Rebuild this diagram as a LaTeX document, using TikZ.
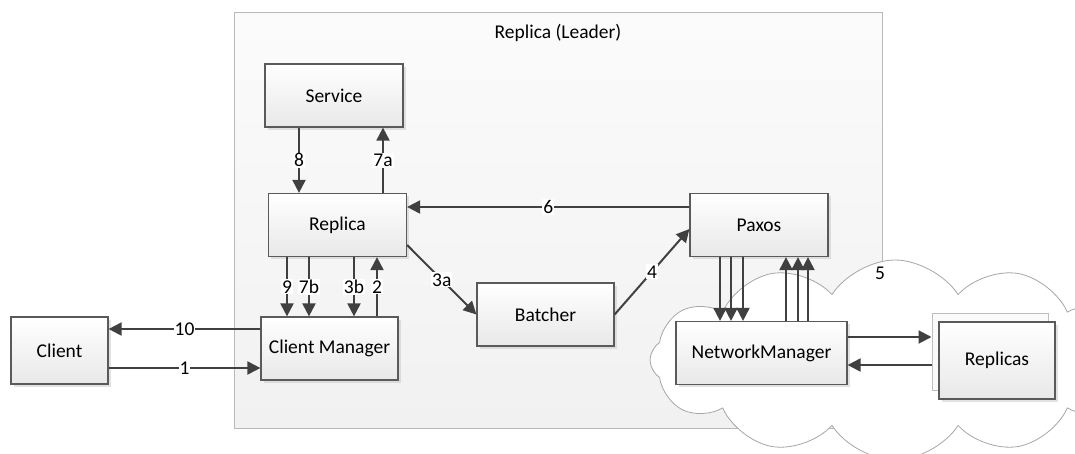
\documentclass[tikz,border=0pt]{standalone}
\usepackage{fontspec}
\setmainfont{Carlito}
\usepackage{tikz}
\usetikzlibrary{arrows.meta,positioning,shapes.symbols,shadows}

\definecolor{linegray}{HTML}{404040}
\definecolor{bordergray}{HTML}{5A5A5A}

\begin{document}
\begin{tikzpicture}[x=1pt,y=-1pt,>={Triangle[length=13pt,width=13pt]},
    font=\fontsize{19.5}{22}\selectfont,
    compbox/.style={draw=bordergray,line width=1.2pt,top color=white,bottom color=gray!18,
      drop shadow={shadow xshift=2.5pt,shadow yshift=-2.5pt,fill=gray!45,opacity=.5},
      minimum width=138pt,minimum height=63pt,inner sep=0pt},
    flow/.style={->,draw=linegray,line width=2pt},
    lbl/.style={fill=white,inner sep=1pt}]
    \useasboundingbox (0,0) rectangle (1075,453);

    % leader replica and the network
    \node[draw=gray!55,line width=1pt,top color=gray!3,bottom color=gray!11,
      minimum width=648pt,minimum height=416pt] (leader) at (558,220) {};
    \node (title) at (558,33) {Replica (Leader)};
    \node[cloud,cloud puffs=12,cloud puff arc=115,aspect=2.4,draw=gray!70,fill=white,
      line width=0.8pt,minimum width=490pt,minimum height=200pt] (net) at (895,360) {};
    \node (five) at (880,273) {5};

    \node[compbox]                 (service) at (334,95.5)    {Service};
    \node[compbox]                 (replica) at (337.5,225)   {Replica};
    \node[compbox,minimum width=137pt] (cm) at (329.5,348.5)  {Client Manager};
    \node[compbox,minimum width=137pt] (batcher) at (545.5,314.5) {Batcher};
    \node[compbox]                 (paxos)   at (759,225)     {Paxos};
    \node[compbox,minimum width=171pt] (nm)  at (761.5,353)   {NetworkManager};
    \node[compbox,minimum width=97pt,minimum height=67pt] (client) at (59.5,350.5) {Client};
    \node[draw=gray!50,line width=1pt,fill=gray!4,minimum width=116pt,minimum height=77pt]
      (peersback) at (990,352) {};
    \node[compbox,minimum width=116pt,minimum height=77pt] (peers) at (997,360.5) {Replicas};

    \path [every edge/.style={flow}]
    ([xshift=-35pt]service.south) edge node[lbl] {8} ([xshift=-35pt]service.south |- replica.north)
    ([xshift=49pt]service.south |- replica.north) edge node[lbl] {7a} ([xshift=49pt]service.south)
    ([xshift=-50.5pt]replica.south) edge node[lbl] {9} ([xshift=-50.5pt]replica.south |- cm.north)
    ([xshift=-28.5pt]replica.south) edge node[lbl] {7b} ([xshift=-28.5pt]replica.south |- cm.north)
    ([xshift=16.5pt]replica.south) edge node[lbl] {3b} ([xshift=16.5pt]replica.south |- cm.north)
    ([xshift=39.5pt]replica.south |- cm.north) edge node[lbl] {2} ([xshift=39.5pt]replica.south)
    ([yshift=-20pt]replica.east) edge node[lbl] {3a} (batcher.west)
    (batcher.east) edge node[lbl] {4} ([yshift=-4pt]paxos.west)
    ([yshift=18pt]paxos.west) edge node[lbl] {6} ([yshift=18pt]paxos.west -| replica.east)
    ([yshift=19.5pt]cm.west) edge node[lbl] {10} ([yshift=19.5pt]cm.west -| client.east)
    ([yshift=-19.5pt]cm.west -| client.east) edge node[lbl] {1} ([yshift=-19.5pt]cm.west)
    ([yshift=16pt]nm.east) edge ([yshift=16pt]nm.east -| peersback.west)
    ([yshift=-12pt]nm.east -| peersback.west) edge ([yshift=-12pt]nm.east);

    \foreach \dx in {-39,-28,-16}
      \draw[flow] ([xshift=\dx pt]paxos.south) -- ([xshift=\dx pt]paxos.south |- nm.north);
    \foreach \dx in {27,39,49}
      \draw[flow] ([xshift=\dx pt]paxos.south |- nm.north) -- ([xshift=\dx pt]paxos.south);
\end{tikzpicture}
\end{document}
